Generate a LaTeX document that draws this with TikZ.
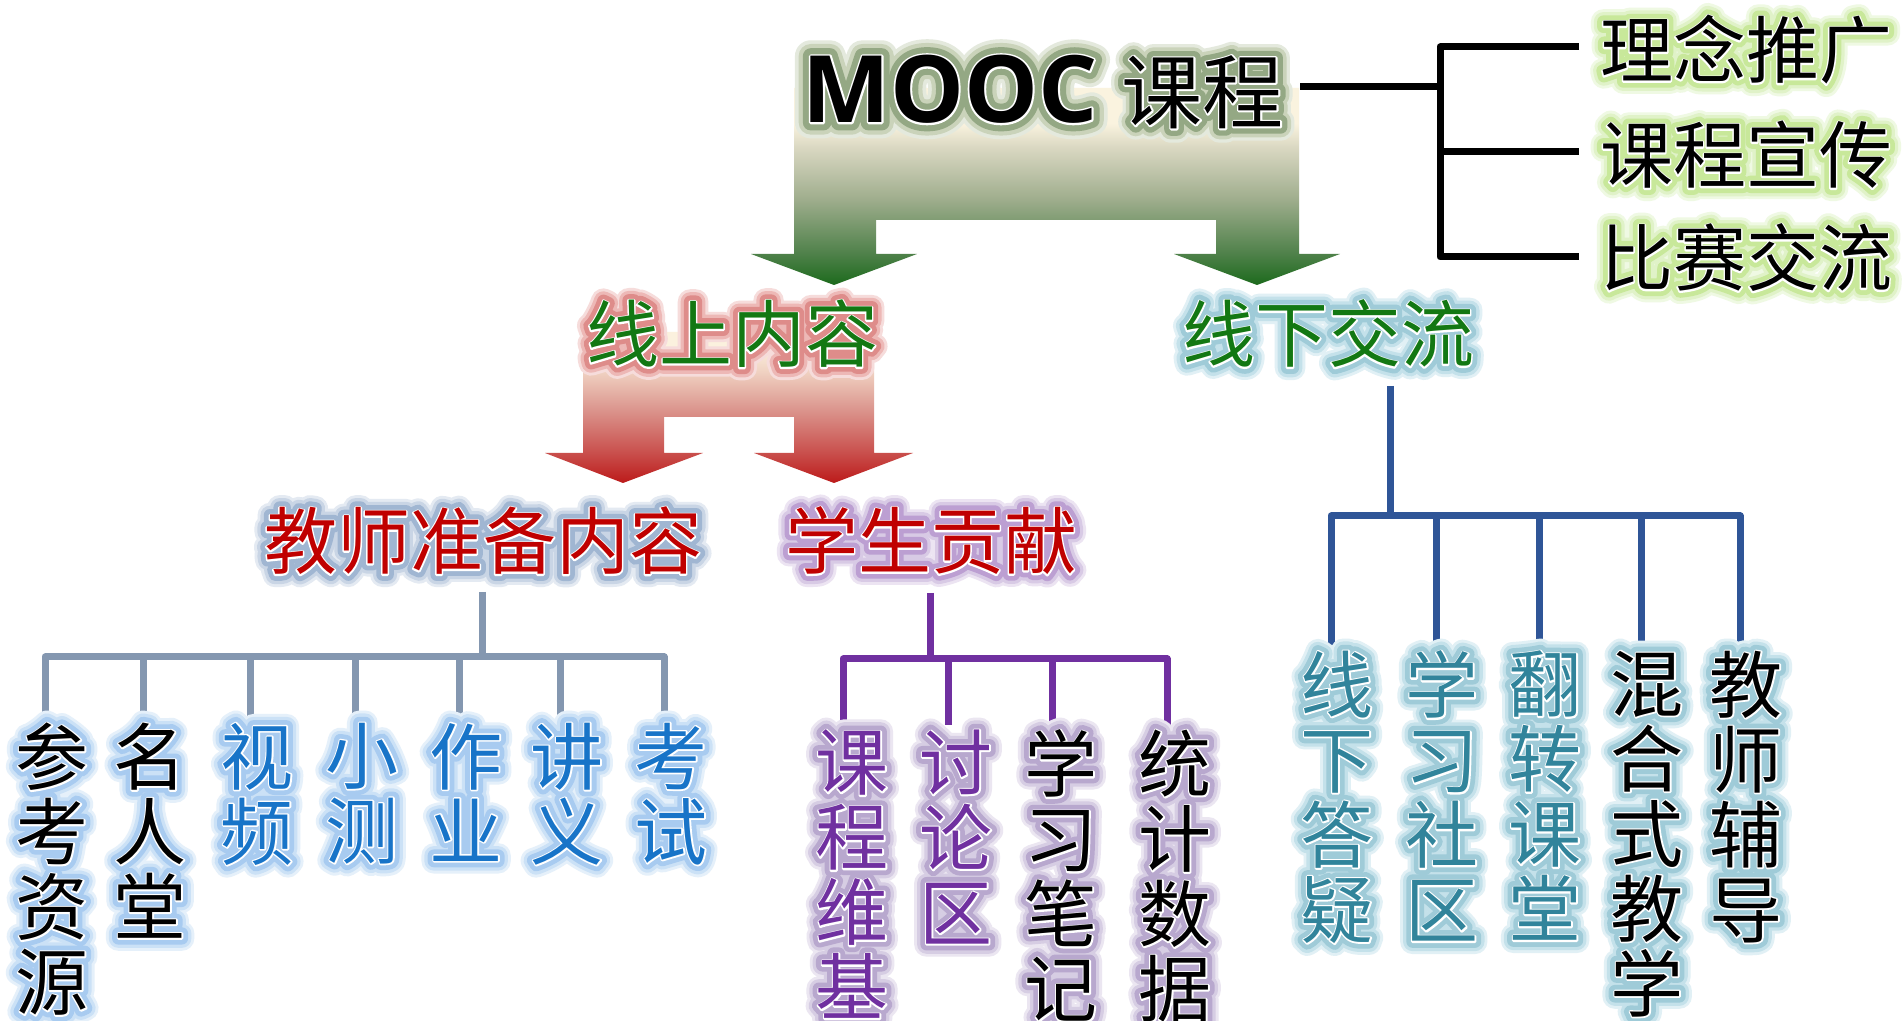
\documentclass[tikz,border=0pt]{standalone}
\usepackage{fontspec}
\newfontfamily\cjk{Noto Sans CJK SC}
\newfontfamily\cjkX{Noto Sans CJK SC}[FakeBold=34]
\newfontfamily\cjkO{Noto Sans CJK SC}[FakeBold=26]
\newfontfamily\cjkM{Noto Sans CJK SC}[FakeBold=17]
\newfontfamily\cjkW{Noto Sans CJK SC}[FakeBold=4]
\newfontfamily\os{Open Sans}
\newfontfamily\osX{Open Sans}[BoldFeatures={FakeBold=34}]
\newfontfamily\osO{Open Sans}[BoldFeatures={FakeBold=26}]
\newfontfamily\osM{Open Sans}[BoldFeatures={FakeBold=17}]
\newfontfamily\osW{Open Sans}[BoldFeatures={FakeBold=4}]
\newcommand\szL{\fontsize{36.5pt}{37.5pt}\selectfont}
\newcommand\szM{\fontsize{46.5pt}{48pt}\selectfont}
\newcommand\szK{\fontsize{40.5pt}{42pt}\selectfont}
\newcommand\mooctext[2]{{#1\bfseries MOOC} {#2\szK 课程}}

\definecolor{gA}{HTML}{1C6A1C}
\definecolor{gB}{HTML}{4F814A}
\definecolor{gC}{HTML}{A0AE8E}
\definecolor{gD}{HTML}{DAD8C2}
\definecolor{gE}{HTML}{FAF3DF}
\definecolor{rA}{HTML}{BC1A1A}
\definecolor{rB}{HTML}{C94F4C}
\definecolor{rC}{HTML}{DC9890}
\definecolor{rD}{HTML}{F0D2C2}
\definecolor{rE}{HTML}{FBF1DE}
\definecolor{txgreen}{HTML}{137813}
\definecolor{txred}{HTML}{C00000}
\definecolor{txblue}{HTML}{1874C8}
\definecolor{txteal}{HTML}{31849B}
\definecolor{txpurple}{HTML}{7030A0}
\definecolor{lngray}{HTML}{8497B0}
\definecolor{lnpurple}{HTML}{7030A0}
\definecolor{lnblue}{HTML}{2F5597}
% halo colours (outer / inner)
\definecolor{hMo}{HTML}{CAD3BA}\definecolor{hMi}{HTML}{94A884}
\definecolor{hYo}{HTML}{E0F2C8}\definecolor{hYi}{HTML}{C8E89A}
\definecolor{hRo}{HTML}{EDB8B6}\definecolor{hRi}{HTML}{DE8C8A}
\definecolor{hCo}{HTML}{C4E1EA}\definecolor{hCi}{HTML}{9FCBD8}
\definecolor{hSo}{HTML}{C9D5E5}\definecolor{hSi}{HTML}{A0B6D2}
\definecolor{hPo}{HTML}{D8CAE5}\definecolor{hPi}{HTML}{BC9FD2}
\definecolor{hBo}{HTML}{CBE1F6}\definecolor{hBi}{HTML}{A8CBF0}
\definecolor{hVo}{HTML}{D6CDE3}\definecolor{hVi}{HTML}{B8A8CE}

\pgfdeclareverticalshading{greenfade}{100bp}{color(0bp)=(gA); color(25bp)=(gA); color(33bp)=(gB); color(47bp)=(gC); color(60bp)=(gD); color(66bp)=(gE); color(75bp)=(gE); color(100bp)=(gE)}
\pgfdeclareverticalshading{redfade}{100bp}{color(0bp)=(rA); color(25bp)=(rA); color(35bp)=(rB); color(50bp)=(rC); color(62bp)=(rD); color(70bp)=(rE); color(75bp)=(rE); color(100bp)=(rE)}

% #1 name, #2 position, #3 anchor, #4 outer, #5 inner, #6 text colour, #7 text
\newcommand\glowlabel[7]{%
  \node[lbl,anchor=#3,text=#4!50!white,font=\cjkX\szL] at #2 {#7};
  \node[lbl,anchor=#3,text=#4,font=\cjkO\szL] at #2 {#7};
  \node[lbl,anchor=#3,text=#5,font=\cjkM\szL] at #2 {#7};
  \node[lbl,anchor=#3,text=white,font=\cjkW\szL] at #2 {#7};
  \node[lbl,anchor=#3,text=#6,font=\cjk\szL] (#1) at #2 {#7};
}

\begin{document}
\begin{tikzpicture}[x=0.5pt,y=-0.5pt,
  lbl/.style={inner sep=0pt,outer sep=0pt,align=center,line join=round},
  treeline/.style={line width=3.5pt,line join=round,line cap=butt},
  gtree/.style={treeline,draw=lngray},
  ptree/.style={treeline,draw=lnpurple},
  btree/.style={treeline,draw=lnblue},
  ktree/.style={treeline,draw=black}]
\fill[white] (0,0) rectangle (1903,1021);
\useasboundingbox (0,0) rectangle (1903,1021);

% ---------- gradient arrows ----------
\shade[shading=greenfade] (794,88) -- (1299,88) -- (1299,254) -- (1340,254) -- (1257,285)
  -- (1174,254) -- (1216,254) -- (1216,220) -- (876,220) -- (876,254) -- (917,254)
  -- (834,285) -- (751,254) -- (794,254) -- cycle;
\shade[shading=redfade] (583,332) -- (874,332) -- (874,453) -- (913,453) -- (834,483)
  -- (754,453) -- (794,453) -- (794,417) -- (664,417) -- (664,453) -- (703,453)
  -- (623,483) -- (545,453) -- (583,453) -- cycle;

% ---------- top title ----------
\node[lbl,text=hMo!50!white,font=\osX\szM] at (1043,92) {\mooctext{\osX}{\cjkX}};
\node[lbl,text=hMo,font=\osO\szM] at (1043,92) {\mooctext{\osO}{\cjkO}};
\node[lbl,text=hMi,font=\osM\szM] at (1043,92) {\mooctext{\osM}{\cjkM}};
\node[lbl,text=white,font=\osW\szM] at (1043,92) {\mooctext{\osW}{\cjkW}};
\node[lbl,text=black,font=\os\szM] (mooc) at (1043,92) {\mooctext{\os}{\cjk}};

% ---------- right branch ----------
\glowlabel{r1}{(1746,50)}{center}{hYo}{hYi}{black}{理念推广}
\glowlabel{r2}{(1746,155)}{center}{hYo}{hYi}{black}{课程宣传}
\glowlabel{r3}{(1746,258)}{center}{hYo}{hYi}{black}{比赛交流}
\coordinate (mj) at (1300,87);
\coordinate (vx) at (1440,87);
\coordinate (e1) at (1579,47);
\coordinate (e2) at (1579,152);
\coordinate (e3) at (1579,257);
\draw[ktree] (mj) -- (vx);
\draw[ktree] (e1) -| (e3 -| vx) -- (e3);
\draw[ktree] (e2 -| vx) -- (e2);

% ---------- second level ----------
\glowlabel{online}{(732,334)}{center}{hRo}{hRi}{txgreen}{线上内容}
\glowlabel{offline}{(1328,334)}{center}{hCo}{hCi}{txgreen}{线下交流}
\glowlabel{teacher}{(483,541)}{center}{hSo}{hSi}{txred}{教师准备内容}
\glowlabel{student}{(931,541)}{center}{hPo}{hPi}{txred}{学生贡献}

% ---------- teacher tree ----------
\coordinate (gS) at (482,592);
\coordinate (gJ) at (482,657);
\foreach \x/\n in {45/1,143/2,250/3,355/4,459/5,560/6,664/7}
  \coordinate (gd\n) at (\x,720);
\draw[gtree] (gS) -- (gJ);
\draw[gtree] (gd1) |- (gJ -| gd7) -- (gd7);
\foreach \n in {2,...,6} \draw[gtree] (gd\n |- gJ) -- (gd\n);
\glowlabel{t1}{(52,723)}{north}{hBo}{hBi}{black}{参\\考\\资\\源}
\glowlabel{t2}{(150,723)}{north}{hBo}{hBi}{black}{名\\人\\堂}
\glowlabel{t3}{(257,723)}{north}{hBo}{hBi}{txblue}{视\\频}
\glowlabel{t4}{(362,723)}{north}{hBo}{hBi}{txblue}{小\\测}
\glowlabel{t5}{(466,723)}{north}{hBo}{hBi}{txblue}{作\\业}
\glowlabel{t6}{(567,723)}{north}{hBo}{hBi}{txblue}{讲\\义}
\glowlabel{t7}{(671,723)}{north}{hBo}{hBi}{txblue}{考\\试}

% ---------- student tree ----------
\coordinate (pS) at (930,593);
\coordinate (pJ) at (930,659);
\foreach \x/\n in {843/1,948/2,1052/3,1167/4}
  \coordinate (pd\n) at (\x,725);
\draw[ptree] (pS) -- (pJ);
\draw[ptree] (pd1) |- (pJ -| pd4) -- (pd4);
\foreach \n in {2,3} \draw[ptree] (pd\n |- pJ) -- (pd\n);
\glowlabel{s1}{(852,730)}{north}{hVo}{hVi}{txpurple}{课\\程\\维\\基}
\glowlabel{s2}{(956,730)}{north}{hVo}{hVi}{txpurple}{讨\\论\\区}
\glowlabel{s3}{(1061,730)}{north}{hVo}{hVi}{black}{学\\习\\笔\\记}
\glowlabel{s4}{(1175,730)}{north}{hVo}{hVi}{black}{统\\计\\数\\据}

% ---------- offline tree ----------
\coordinate (bS) at (1390,386);
\coordinate (bJ) at (1390,516);
\foreach \x/\n in {1331/1,1436/2,1539/3,1641/4,1740/5}
  \coordinate (bd\n) at (\x,647);
\draw[btree] (bS) -- (bJ);
\draw[btree] (bd1) |- (bJ -| bd5) -- (bd5);
\foreach \n in {2,3,4} \draw[btree] (bd\n |- bJ) -- (bd\n);
\glowlabel{o1}{(1337,651)}{north}{hCo}{hCi}{txteal}{线\\下\\答\\疑}
\glowlabel{o2}{(1442,651)}{north}{hCo}{hCi}{txteal}{学\\习\\社\\区}
\glowlabel{o3}{(1545,651)}{north}{hCo}{hCi}{txteal}{翻\\转\\课\\堂}
\glowlabel{o4}{(1647,651)}{north}{hCo}{hCi}{black}{混\\合\\式\\教\\学}
\glowlabel{o5}{(1746,651)}{north}{hCo}{hCi}{black}{教\\师\\辅\\导}
\end{tikzpicture}
\end{document}
